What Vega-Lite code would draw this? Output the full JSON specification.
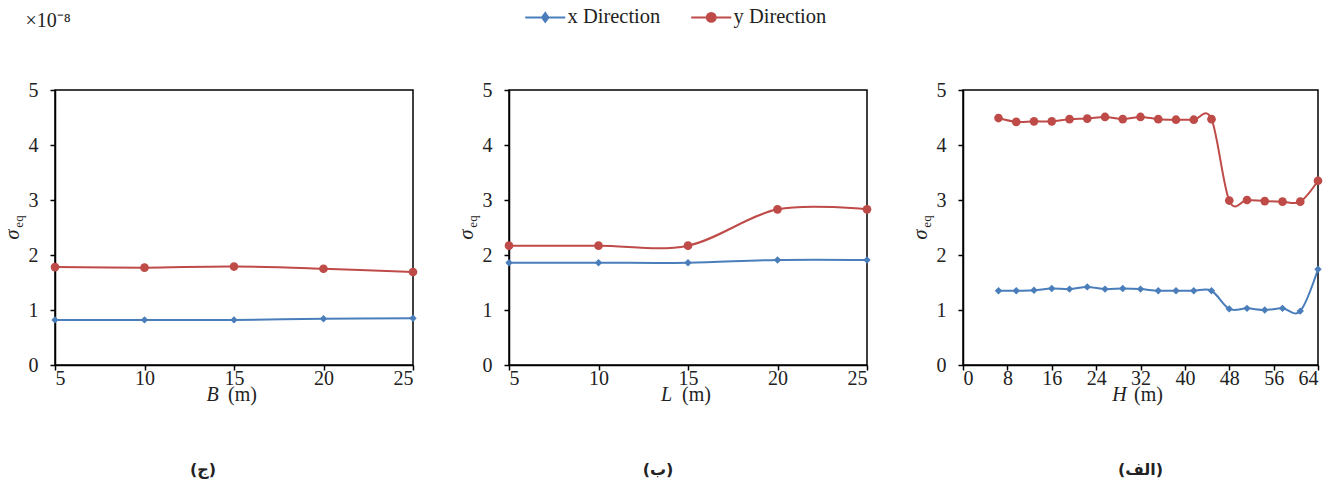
{
  "$schema": "https://vega.github.io/schema/vega-lite/v6.json",
  "padding": {"left": 1, "top": 7, "right": 5, "bottom": 5},
  "background": "white",
  "config": {
    "font": "Liberation Serif",
    "view": {"stroke": "black", "strokeWidth": 1.5},
    "axis": {"domainColor": "black", "domainWidth": 1.5, "tickColor": "black", "tickWidth": 1.5, "tickSize": 5, "grid": false, "labelFont": "Liberation Serif", "labelFontSize": 20, "labelColor": "#222", "titleFont": "Liberation Serif", "titleFontWeight": "normal", "titleColor": "#222", "titleFontSize": 20},
    "legend": {"orient": "none", "legendX": 480, "legendY": -83, "direction": "horizontal", "title": null, "labelFont": "Liberation Serif", "labelFontSize": 20.5, "labelColor": "#222", "labelOffset": 12, "columnPadding": 26, "symbolSize": 64},
    "concat": {"spacing": 96}
  },
  "datasets": {
    "B": [
      {"x": 5, "s": "x Direction", "v": 0.82}, {"x": 10, "s": "x Direction", "v": 0.82}, {"x": 15, "s": "x Direction", "v": 0.82}, {"x": 20, "s": "x Direction", "v": 0.84}, {"x": 25, "s": "x Direction", "v": 0.85},
      {"x": 5, "s": "y Direction", "v": 1.78}, {"x": 10, "s": "y Direction", "v": 1.77}, {"x": 15, "s": "y Direction", "v": 1.79}, {"x": 20, "s": "y Direction", "v": 1.75}, {"x": 25, "s": "y Direction", "v": 1.69}
    ],
    "L": [
      {"x": 5, "s": "x Direction", "v": 1.86}, {"x": 10, "s": "x Direction", "v": 1.86}, {"x": 15, "s": "x Direction", "v": 1.86}, {"x": 20, "s": "x Direction", "v": 1.91}, {"x": 25, "s": "x Direction", "v": 1.91},
      {"x": 5, "s": "y Direction", "v": 2.17}, {"x": 10, "s": "y Direction", "v": 2.17}, {"x": 15, "s": "y Direction", "v": 2.17}, {"x": 20, "s": "y Direction", "v": 2.83}, {"x": 25, "s": "y Direction", "v": 2.83}
    ],
    "H": [
      {"x": 6.4, "s": "x Direction", "v": 1.35}, {"x": 9.6, "s": "x Direction", "v": 1.35}, {"x": 12.8, "s": "x Direction", "v": 1.36}, {"x": 16, "s": "x Direction", "v": 1.39}, {"x": 19.2, "s": "x Direction", "v": 1.38}, {"x": 22.4, "s": "x Direction", "v": 1.42}, {"x": 25.6, "s": "x Direction", "v": 1.38}, {"x": 28.8, "s": "x Direction", "v": 1.39}, {"x": 32, "s": "x Direction", "v": 1.38}, {"x": 35.2, "s": "x Direction", "v": 1.35}, {"x": 38.4, "s": "x Direction", "v": 1.35}, {"x": 41.6, "s": "x Direction", "v": 1.35}, {"x": 44.8, "s": "x Direction", "v": 1.35}, {"x": 48, "s": "x Direction", "v": 1.02}, {"x": 51.2, "s": "x Direction", "v": 1.03}, {"x": 54.4, "s": "x Direction", "v": 1.0}, {"x": 57.6, "s": "x Direction", "v": 1.03}, {"x": 60.8, "s": "x Direction", "v": 0.98}, {"x": 64, "s": "x Direction", "v": 1.74},
      {"x": 6.4, "s": "y Direction", "v": 4.49}, {"x": 9.6, "s": "y Direction", "v": 4.42}, {"x": 12.8, "s": "y Direction", "v": 4.43}, {"x": 16, "s": "y Direction", "v": 4.43}, {"x": 19.2, "s": "y Direction", "v": 4.47}, {"x": 22.4, "s": "y Direction", "v": 4.48}, {"x": 25.6, "s": "y Direction", "v": 4.51}, {"x": 28.8, "s": "y Direction", "v": 4.47}, {"x": 32, "s": "y Direction", "v": 4.51}, {"x": 35.2, "s": "y Direction", "v": 4.47}, {"x": 38.4, "s": "y Direction", "v": 4.46}, {"x": 41.6, "s": "y Direction", "v": 4.46}, {"x": 44.8, "s": "y Direction", "v": 4.47}, {"x": 48, "s": "y Direction", "v": 2.99}, {"x": 51.2, "s": "y Direction", "v": 3.0}, {"x": 54.4, "s": "y Direction", "v": 2.98}, {"x": 57.6, "s": "y Direction", "v": 2.97}, {"x": 60.8, "s": "y Direction", "v": 2.97}, {"x": 64, "s": "y Direction", "v": 3.35}
    ]
  },
  "bounds": "flush",
  "resolve": {"scale": {"color": "shared"}},
  "hconcat": [
    {
      "width": 358, "height": 275,
      "data": {"name": "B"},
      "title": {"text": "(ج)", "orient": "bottom", "anchor": "middle", "frame": "group", "font": "DejaVu Sans", "fontSize": 16, "fontWeight": "bold", "color": "#222", "dx": -31, "offset": 58},
      "resolve": {"axis": {"x": "independent", "y": "independent"}},
      "layer": [
        {
          "mark": {"type": "line", "interpolate": "cardinal", "strokeWidth": 2},
          "encoding": {
            "x": {"field": "x", "type": "quantitative", "scale": {"domain": [5, 25], "nice": false, "zero": false}, "axis": {"values": [5, 10, 15, 20, 25], "labelPadding": -2, "title": "(m)", "titleX": 187, "titleY": 35, "titleBaseline": "alphabetic", "titleAlign": "center"}},
            "y": {"field": "v", "type": "quantitative", "scale": {"domain": [0, 5], "nice": false}, "axis": {"values": [0, 1, 2, 3, 4, 5], "labelPadding": 12, "title": "σ", "titleFontStyle": "italic", "titleX": -37, "titleY": 144, "titleBaseline": "alphabetic", "titleAlign": "center", "titleAngle": 270}},
            "color": {"field": "s", "type": "nominal", "scale": {"domain": ["x Direction", "y Direction"], "range": ["#4A7EBB", "#BE4B48"]},
              "legend": {"encode": {"symbols": {"update": {"shape": {"signal": "datum.value == 'x Direction' ? 'M-5,0H5M0,-1.1L0.8,0L0,1.1L-0.8,0Z' : 'M-5,0H5M-1.1,0A1.1,1.1 0 1,0 1.1,0A1.1,1.1 0 1,0 -1.1,0'"}, "strokeWidth": {"value": 2}, "size": {"value": 64}, "opacity": {"value": 1}}}}}}
          }
        },
        {
          "transform": [{"filter": "datum.s == 'x Direction'"}],
          "mark": {"type": "point", "shape": "diamond", "size": 55, "filled": true, "opacity": 1},
          "encoding": {
            "x": {"field": "x", "type": "quantitative", "scale": {"domain": [5, 25], "nice": false, "zero": false}, "axis": {"orient": "top", "domain": false, "ticks": false, "labels": false, "title": "eq", "titleFontSize": 13, "titleAngle": 270, "titleX": -33, "titleY": 131, "titleBaseline": "alphabetic", "titleAlign": "center"}},
            "y": {"field": "v", "type": "quantitative", "scale": {"domain": [0, 5], "nice": false}, "axis": {"orient": "right", "domain": false, "ticks": false, "labels": false, "title": "B", "titleFontStyle": "italic", "titleAngle": 0, "titleX": -201, "titleY": 310, "titleBaseline": "alphabetic", "titleAlign": "center"}},
            "color": {"field": "s", "type": "nominal",
              "legend": {"encode": {"symbols": {"update": {"shape": {"signal": "datum.value == 'x Direction' ? 'M-5,0H5M0,-1.1L0.8,0L0,1.1L-0.8,0Z' : 'M-5,0H5M-1.1,0A1.1,1.1 0 1,0 1.1,0A1.1,1.1 0 1,0 -1.1,0'"}, "strokeWidth": {"value": 2}, "size": {"value": 64}, "opacity": {"value": 1}}}}}}
          }
        },
        {
          "transform": [{"filter": "datum.s == 'y Direction'"}],
          "mark": {"type": "point", "shape": "circle", "size": 75, "filled": true, "opacity": 1},
          "encoding": {
            "x": {"field": "x", "type": "quantitative", "scale": {"domain": [5, 25], "nice": false, "zero": false}, "axis": null},
            "y": {"field": "v", "type": "quantitative", "scale": {"domain": [0, 5], "nice": false}, "axis": {"orient": "left", "domain": false, "ticks": false, "labels": false, "title": "×10⁻⁸", "titleAngle": 0, "titleAlign": "left", "titleBaseline": "alphabetic", "titleX": -30, "titleY": -64}},
            "color": {"field": "s", "type": "nominal",
              "legend": {"encode": {"symbols": {"update": {"shape": {"signal": "datum.value == 'x Direction' ? 'M-5,0H5M0,-1.1L0.8,0L0,1.1L-0.8,0Z' : 'M-5,0H5M-1.1,0A1.1,1.1 0 1,0 1.1,0A1.1,1.1 0 1,0 -1.1,0'"}, "strokeWidth": {"value": 2}, "size": {"value": 64}, "opacity": {"value": 1}}}}}}
          }
        }
      ]
    },
    {
      "width": 358, "height": 275,
      "data": {"name": "L"},
      "title": {"text": "(ب)", "orient": "bottom", "anchor": "middle", "frame": "group", "font": "DejaVu Sans", "fontSize": 16, "fontWeight": "bold", "color": "#222", "dx": -30, "offset": 58},
      "resolve": {"axis": {"x": "independent", "y": "independent"}},
      "layer": [
        {
          "mark": {"type": "line", "interpolate": "cardinal", "strokeWidth": 2},
          "encoding": {
            "x": {"field": "x", "type": "quantitative", "scale": {"domain": [5, 25], "nice": false, "zero": false}, "axis": {"values": [5, 10, 15, 20, 25], "labelPadding": -2, "title": "(m)", "titleX": 187, "titleY": 35, "titleBaseline": "alphabetic", "titleAlign": "center"}},
            "y": {"field": "v", "type": "quantitative", "scale": {"domain": [0, 5], "nice": false}, "axis": {"values": [0, 1, 2, 3, 4, 5], "labelPadding": 12, "title": "σ", "titleFontStyle": "italic", "titleX": -37, "titleY": 144, "titleBaseline": "alphabetic", "titleAlign": "center", "titleAngle": 270}},
            "color": {"field": "s", "type": "nominal"}
          }
        },
        {
          "transform": [{"filter": "datum.s == 'x Direction'"}],
          "mark": {"type": "point", "shape": "diamond", "size": 55, "filled": true, "opacity": 1},
          "encoding": {
            "x": {"field": "x", "type": "quantitative", "scale": {"domain": [5, 25], "nice": false, "zero": false}, "axis": {"orient": "top", "domain": false, "ticks": false, "labels": false, "title": "eq", "titleFontSize": 13, "titleAngle": 270, "titleX": -33, "titleY": 131, "titleBaseline": "alphabetic", "titleAlign": "center"}},
            "y": {"field": "v", "type": "quantitative", "scale": {"domain": [0, 5], "nice": false}, "axis": {"orient": "right", "domain": false, "ticks": false, "labels": false, "title": "L", "titleFontStyle": "italic", "titleAngle": 0, "titleX": -201, "titleY": 310, "titleBaseline": "alphabetic", "titleAlign": "center"}},
            "color": {"field": "s", "type": "nominal"}
          }
        },
        {
          "transform": [{"filter": "datum.s == 'y Direction'"}],
          "mark": {"type": "point", "shape": "circle", "size": 75, "filled": true, "opacity": 1},
          "encoding": {
            "x": {"field": "x", "type": "quantitative", "scale": {"domain": [5, 25], "nice": false, "zero": false}, "axis": null},
            "y": {"field": "v", "type": "quantitative", "scale": {"domain": [0, 5], "nice": false}, "axis": null},
            "color": {"field": "s", "type": "nominal"}
          }
        }
      ]
    },
    {
      "width": 355, "height": 275,
      "data": {"name": "H"},
      "title": {"text": "(الف)", "orient": "bottom", "anchor": "middle", "frame": "group", "font": "DejaVu Sans", "fontSize": 16, "fontWeight": "bold", "color": "#222", "dx": 0, "offset": 58},
      "resolve": {"axis": {"x": "independent", "y": "independent"}},
      "layer": [
        {
          "mark": {"type": "line", "interpolate": "cardinal", "strokeWidth": 2},
          "encoding": {
            "x": {"field": "x", "type": "quantitative", "scale": {"domain": [0, 64], "nice": false}, "axis": {"values": [0, 8, 16, 24, 32, 40, 48, 56, 64], "labelPadding": -2, "title": "(m)", "titleX": 185, "titleY": 35, "titleBaseline": "alphabetic", "titleAlign": "center"}},
            "y": {"field": "v", "type": "quantitative", "scale": {"domain": [0, 5], "nice": false}, "axis": {"values": [0, 1, 2, 3, 4, 5], "labelPadding": 12, "title": "σ", "titleFontStyle": "italic", "titleX": -37, "titleY": 144, "titleBaseline": "alphabetic", "titleAlign": "center", "titleAngle": 270}},
            "color": {"field": "s", "type": "nominal"}
          }
        },
        {
          "transform": [{"filter": "datum.s == 'x Direction'"}],
          "mark": {"type": "point", "shape": "diamond", "size": 55, "filled": true, "opacity": 1},
          "encoding": {
            "x": {"field": "x", "type": "quantitative", "scale": {"domain": [0, 64], "nice": false}, "axis": {"orient": "top", "domain": false, "ticks": false, "labels": false, "title": "eq", "titleFontSize": 13, "titleAngle": 270, "titleX": -33, "titleY": 131, "titleBaseline": "alphabetic", "titleAlign": "center"}},
            "y": {"field": "v", "type": "quantitative", "scale": {"domain": [0, 5], "nice": false}, "axis": {"orient": "right", "domain": false, "ticks": false, "labels": false, "title": "H", "titleFontStyle": "italic", "titleAngle": 0, "titleX": -199, "titleY": 310, "titleBaseline": "alphabetic", "titleAlign": "center"}},
            "color": {"field": "s", "type": "nominal"}
          }
        },
        {
          "transform": [{"filter": "datum.s == 'y Direction'"}],
          "mark": {"type": "point", "shape": "circle", "size": 75, "filled": true, "opacity": 1},
          "encoding": {
            "x": {"field": "x", "type": "quantitative", "scale": {"domain": [0, 64], "nice": false}, "axis": null},
            "y": {"field": "v", "type": "quantitative", "scale": {"domain": [0, 5], "nice": false}, "axis": null},
            "color": {"field": "s", "type": "nominal"}
          }
        }
      ]
    }
  ]
}
